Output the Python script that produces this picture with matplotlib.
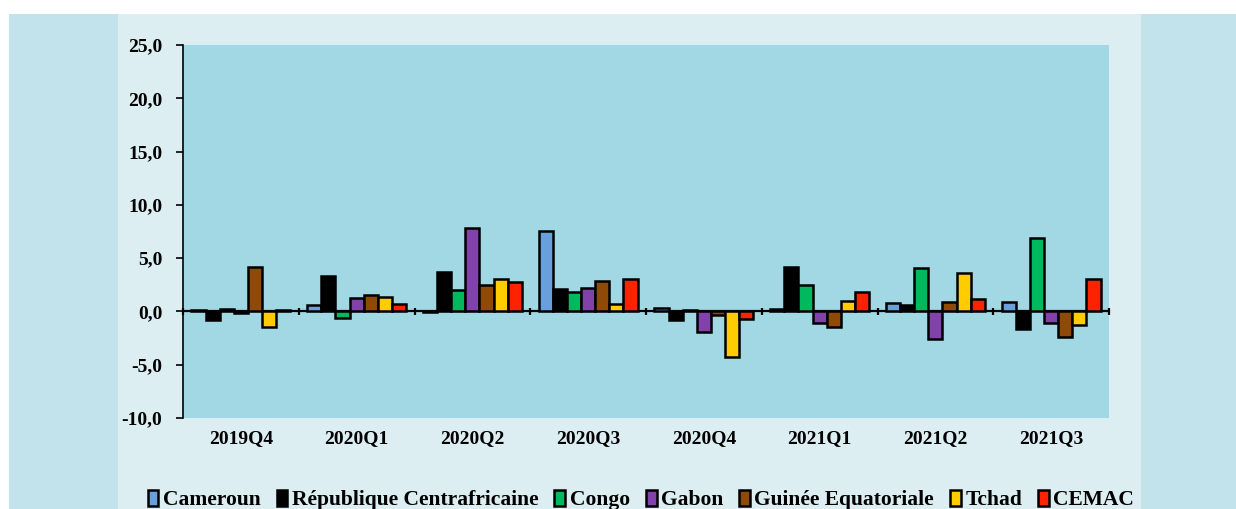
import numpy as np
import matplotlib

matplotlib.use("Agg")
from matplotlib import pyplot as plt
from matplotlib.patches import Rectangle

quarters = ["2019Q4", "2020Q1", "2020Q2", "2020Q3", "2020Q4", "2021Q1", "2021Q2", "2021Q3"]
countries = ["Cameroun", "République Centrafricaine", "Congo", "Gabon",
             "Guinée Equatoriale", "Tchad", "CEMAC"]

cameroun = [0.1, 0.6, -0.1, 7.5, 0.35, 0.25, 0.75, 0.85]
rca = [-0.8, 3.3, 3.7, 2.1, -0.85, 4.2, 0.6, -1.65]
congo = [0.2, -0.65, 2.0, 1.8, 0.15, 2.45, 4.05, 6.9]
gabon = [-0.15, 1.3, 7.85, 2.2, -1.9, -1.05, -2.6, -1.05]
guinee = [4.15, 1.55, 2.5, 2.9, -0.3, -1.5, 0.85, -2.4]
tchad = [-1.5, 1.4, 3.05, 0.7, -4.3, 1.0, 3.65, -1.3]
cemac = [0.1, 0.7, 2.8, 3.05, -0.75, 1.85, 1.2, 3.05]

series = [cameroun, rca, congo, gabon, guinee, tchad, cemac]
colors = ["#69a0dc", "#000000", "#00b85e", "#8142aa", "#8e4a06", "#ffcc00", "#ff2200"]

yticks = [-10, -5, 0, 5, 10, 15, 20, 25]

serif = ["Liberation Serif", "DejaVu Serif"]
plt.rcParams["font.family"] = serif
plt.rcParams["font.weight"] = "bold"

fig = plt.figure(figsize=(12.36, 5.09), dpi=100)
fig.patch.set_facecolor("white")

# background bands behind the chart
W, H = 1236, 509
for x0, x1, col in [(9, 118, "#c3e3ec"), (118, 1141, "#ddeef3"), (1141, 1236, "#c3e3ec")]:
    fig.add_artist(Rectangle((x0 / W, 0), (x1 - x0) / W, (H - 14) / H,
                             transform=fig.transFigure, color=col, zorder=-10, lw=0))

ax = fig.add_axes([183 / W, 1 - 418 / H, (1109 - 183) / W, (418 - 45) / H])
ax.set_facecolor("#a2d8e3")

n = len(series)
bw = 0.122
x = np.arange(len(quarters))
for i, (vals, col, name) in enumerate(zip(series, colors, countries)):
    ax.bar(x + (i - (n - 1) / 2) * bw, vals, width=bw, color=col,
           edgecolor="black", linewidth=1.8, label=name, zorder=3)

ax.set_xlim(-0.5, len(quarters) - 0.5)
ax.set_ylim(-10, 25)
ax.axhline(0, color="black", lw=1.6, zorder=2)
bounds = np.arange(len(quarters) + 1) - 0.5
ax.vlines(bounds, -0.35, 0.35, color="black", lw=1.6, zorder=2, clip_on=False)

for side in ["top", "right", "bottom"]:
    ax.spines[side].set_visible(False)
ax.spines["left"].set_linewidth(1.2)

ax.set_yticks(yticks)
ax.set_yticklabels([f"{v:.1f}".replace(".", ",") for v in yticks],
                   fontsize=14, fontweight="bold")
ax.tick_params(axis="y", direction="out", length=5, width=1.2, pad=10)
ax.set_xticks(x)
ax.set_xticklabels(quarters, fontsize=14, fontweight="bold")
ax.tick_params(axis="x", length=0, pad=9)

fig.legend(loc="center", bbox_to_anchor=(641 / W, 1 - 500 / H), ncol=7, frameon=False,
           prop={"family": serif, "weight": "bold", "size": 15.5},
           handlelength=0.5, handleheight=0.8, handletextpad=0.2, columnspacing=0.75)

fig.savefig("out.png", dpi=100, facecolor=fig.get_facecolor())
